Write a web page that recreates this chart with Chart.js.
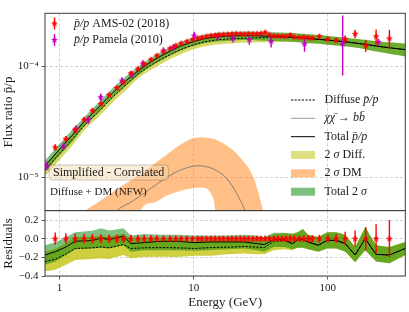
<!DOCTYPE html>
<html>
<head>
<meta charset="utf-8">
<script src="https://cdn.jsdelivr.net/npm/chart.js@4.4.0/dist/chart.umd.min.js"></script>
<style>
  html, body { margin: 0; padding: 0; background: #fff; }
  #wrap { position: relative; width: 409px; height: 312px; overflow: hidden; }
  #main { position: absolute; left: 0; top: 0; }
  #resid { position: absolute; left: 0; top: 200px; }
</style>
</head>
<body>
<div id="wrap">
  <canvas id="main" width="409" height="211"></canvas>
  <canvas id="resid" width="409" height="112"></canvas>
</div>
<script>
// ---- values ----
var amsEnergy = [0.929, 1.116, 1.309, 1.528, 1.761, 2.035, 2.346, 2.677, 2.998, 3.405, 3.84, 4.28, 4.80, 5.32, 5.96, 6.68, 7.37, 8.07, 8.90, 9.80, 10.74, 11.51,
  12.46, 13.43, 14.46, 15.56, 16.66, 17.98, 19.26, 20.75, 22.33, 23.91, 25.61, 27.6, 29.6, 31.8, 34.1, 36.7, 39.6, 42.4, 45.6, 48.9, 52.6, 56.4,
  61.4, 66.2, 71.6, 76.7, 86.5, 100, 115.3, 134.6, 159.7, 191.8, 229, 287.7];
var amsRatio = [1.86e-5, 2.22e-5, 2.67e-5, 3.31e-5, 3.99e-5, 4.58e-5, 5.52e-5, 6.38e-5, 7.17e-5, 8.65e-5, 9.48e-5, 1.05e-4, 1.15e-4, 1.25e-4, 1.36e-4, 1.45e-4, 1.54e-4, 1.61e-4, 1.67e-4, 1.74e-4, 1.79e-4, 1.82e-4,
  1.86e-4, 1.89e-4, 1.91e-4, 1.93e-4, 1.94e-4, 1.95e-4, 1.96e-4, 1.97e-4, 1.96e-4, 1.95e-4, 1.97e-4, 1.96e-4, 1.97e-4, 1.98e-4, 2.02e-4, 1.93e-4, 1.88e-4, 1.88e-4, 1.87e-4, 1.86e-4, 1.92e-4, 1.83e-4,
  1.82e-4, 1.83e-4, 1.81e-4, 1.79e-4, 1.86e-4, 1.75e-4, 1.71e-4, 1.76e-4, 1.96e-4, 1.54e-4, 1.86e-4, 1.78e-4];
var amsRelErr = [0.065, 0.058, 0.055, 0.052, 0.05, 0.048, 0.046, 0.045, 0.044, 0.042, 0.04, 0.038, 0.036, 0.035, 0.034, 0.033, 0.032, 0.031, 0.031, 0.03, 0.03, 0.03,
  0.03, 0.03, 0.03, 0.03, 0.03, 0.03, 0.03, 0.03, 0.03, 0.03, 0.03, 0.03, 0.03, 0.03, 0.032, 0.032, 0.032, 0.032, 0.032, 0.032, 0.034, 0.034,
  0.035, 0.036, 0.037, 0.038, 0.04, 0.042, 0.05, 0.074, 0.088, 0.126, 0.154, 0.2];

var pamEnergy = [0.806, 1.07, 1.33, 1.64, 2.03, 2.92, 3.46, 4.18, 5.96, 7.07, 10.1, 15.1, 19.6, 26.0, 37.8, 67, 129, 238];
var pamRatio = [1.27e-5, 1.90e-5, 2.73e-5, 3.29e-5, 5.26e-5, 7.43e-5, 8.42e-5, 1.06e-4, 1.38e-4, 1.48e-4, 1.89e-4, 1.86e-4, 1.80e-4, 1.74e-4, 1.68e-4, 1.59e-4, 1.59e-4, 1.66e-4];
var pamErrDown = [0.09, 0.08, 0.08, 0.08, 0.08, 0.07, 0.07, 0.07, 0.07, 0.07, 0.08, 0.08, 0.09, 0.1, 0.12, 0.15, 0.48, 0.06];
var pamErrUp = [0.09, 0.08, 0.08, 0.08, 0.08, 0.07, 0.07, 0.07, 0.07, 0.07, 0.08, 0.08, 0.09, 0.1, 0.12, 0.15, 0.8, 0.06];

// model curves, upper panel
var modelEnergy = [0.78, 1, 1.25, 1.5, 2, 2.5, 3, 4, 5, 6, 7, 8, 10, 12, 15, 20, 25, 30, 40, 50, 60, 80, 100, 130, 160, 200, 250, 300, 380];
var totalRatio = [1.27e-5, 1.78e-5, 2.4e-5, 3.1e-5, 4.4e-5, 5.8e-5, 7.1e-5, 9.4e-5, 1.13e-4, 1.28e-4, 1.41e-4, 1.52e-4, 1.67e-4, 1.77e-4, 1.84e-4, 1.88e-4, 1.89e-4, 1.88e-4, 1.86e-4, 1.84e-4, 1.81e-4, 1.76e-4, 1.72e-4, 1.67e-4, 1.62e-4, 1.56e-4, 1.50e-4, 1.46e-4, 1.41e-4];
var diffuseRatio = [1.16e-5, 1.63e-5, 2.2e-5, 2.85e-5, 4.0e-5, 5.28e-5, 6.46e-5, 8.84e-5, 1.05e-4, 1.19e-4, 1.31e-4, 1.41e-4, 1.56e-4, 1.655e-4, 1.73e-4, 1.77e-4, 1.795e-4, 1.805e-4, 1.82e-4, 1.82e-4, 1.81e-4, 1.76e-4, 1.72e-4, 1.67e-4, 1.62e-4, 1.56e-4, 1.50e-4, 1.46e-4, 1.41e-4];
var totalBandHigh = [1.42e-5, 1.99e-5, 2.69e-5, 3.41e-5, 4.84e-5, 6.38e-5, 7.81e-5, 1.025e-4, 1.23e-4, 1.395e-4, 1.537e-4, 1.657e-4, 1.82e-4, 1.93e-4, 2.006e-4, 2.05e-4, 2.06e-4, 2.05e-4, 2.027e-4, 2.006e-4, 1.973e-4, 1.918e-4, 1.875e-4, 1.82e-4, 1.766e-4, 1.716e-4, 1.665e-4, 1.635e-4, 1.593e-4];
var totalBandLow = [1.12e-5, 1.57e-5, 2.11e-5, 2.79e-5, 3.96e-5, 5.22e-5, 6.39e-5, 8.55e-5, 1.03e-4, 1.165e-4, 1.283e-4, 1.383e-4, 1.52e-4, 1.61e-4, 1.674e-4, 1.71e-4, 1.72e-4, 1.71e-4, 1.693e-4, 1.674e-4, 1.647e-4, 1.602e-4, 1.565e-4, 1.52e-4, 1.474e-4, 1.404e-4, 1.335e-4, 1.285e-4, 1.227e-4];
var diffBandHigh = [1.30e-5, 1.83e-5, 2.46e-5, 3.14e-5, 4.4e-5, 5.81e-5, 7.11e-5, 9.64e-5, 1.145e-4, 1.297e-4, 1.428e-4, 1.537e-4, 1.70e-4, 1.804e-4, 1.886e-4, 1.929e-4, 1.957e-4, 1.967e-4, 1.984e-4, 1.984e-4, 1.973e-4, 1.918e-4, 1.875e-4, 1.82e-4, 1.766e-4, 1.716e-4, 1.665e-4, 1.635e-4, 1.593e-4];
var diffBandLow = [1.02e-5, 1.43e-5, 1.94e-5, 2.57e-5, 3.6e-5, 4.75e-5, 5.81e-5, 8.04e-5, 9.56e-5, 1.083e-4, 1.192e-4, 1.283e-4, 1.42e-4, 1.506e-4, 1.574e-4, 1.611e-4, 1.633e-4, 1.643e-4, 1.656e-4, 1.656e-4, 1.647e-4, 1.602e-4, 1.565e-4, 1.52e-4, 1.474e-4, 1.404e-4, 1.335e-4, 1.285e-4, 1.227e-4];

// dark matter component
var dmEnergy = [2.3, 2.68, 3.56, 4.74, 6.31, 8.39, 10.8, 14.0, 17.7, 21.0, 24.2, 27];
var dmRatio = [4.0e-6, 5.0e-6, 6.17e-6, 7.86e-6, 1.0e-5, 1.19e-5, 1.27e-5, 1.19e-5, 9.7e-6, 7.09e-6, 5.0e-6, 3.4e-6];
var dmBandEnergy = [1.3, 1.55, 2.0, 2.8, 3.56, 4.0, 5.0, 6.31, 8.39, 11.2, 14.0, 14.5, 17.7, 22.2, 27.9, 33, 38];
var dmBandHigh = [4.3e-6, 5.0e-6, 6.1e-6, 8.1e-6, 9.7e-6, 1.07e-5, 1.3e-5, 1.6e-5, 2.05e-5, 2.29e-5, 2.22e-5, 2.19e-5, 1.93e-5, 1.51e-5, 1.0e-5, 5.0e-6, 2.6e-6];
var dmBandLow = [1e-6, 1e-6, 1e-6, 1e-6, 1e-6, 5.0e-6, 5.9e-6, 6.84e-6, 7.7e-6, 8.1e-6, 6.5e-6, 5.0e-6, 1e-6, 1e-6, 1e-6, 1e-6, 1e-6];

// residual panel
var resEnergy = [0.78, 0.93, 1.12, 1.31, 1.76, 2.04, 2.35, 3.0, 3.4, 4.28, 5.7, 7.57, 10.1, 13.4, 17.9, 23.7, 29.8, 33.6, 39.6, 47.3, 54.6, 59.5, 65.2, 71.2, 85, 98.7, 115.6, 135, 159.7, 190, 229, 288, 378];
var resTotal = [-0.175, -0.14, -0.088, -0.028, -0.02, 0.007, -0.01, 0.028, -0.053, -0.042, -0.028, -0.028, -0.042, -0.035, -0.035, -0.035, -0.053, -0.063, -0.01, -0.01, -0.053, -0.01, -0.01, -0.035, -0.07, -0.018, -0.018, -0.053, -0.175, 0, -0.168, -0.175, -0.105];
var resDiffuse = [-0.245, -0.22, -0.165, -0.105, -0.098, -0.088, -0.098, -0.063, -0.105, -0.098, -0.095, -0.098, -0.105, -0.095, -0.091, -0.084, -0.091, -0.095, -0.03, -0.02, -0.055, -0.01, -0.01, -0.035, -0.07, -0.018, -0.018, -0.053, -0.175, 0, -0.168, -0.175, -0.105];
var resTotalHigh = [-0.07, -0.042, 0.018, 0.07, 0.084, 0.112, 0.088, 0.112, 0.035, 0.049, 0.042, 0.042, 0.035, 0.035, 0.035, 0.042, 0.035, 0.018, 0.063, 0.063, 0.053, 0.07, 0.105, 0.042, 0.018, 0.07, 0.07, 0.042, -0.088, 0.123, -0.07, -0.088, -0.035];
var resTotalLow = [-0.28, -0.245, -0.175, -0.112, -0.105, -0.098, -0.105, -0.07, -0.14, -0.123, -0.123, -0.123, -0.13, -0.12, -0.112, -0.105, -0.123, -0.14, -0.088, -0.088, -0.112, -0.098, -0.098, -0.112, -0.14, -0.105, -0.105, -0.14, -0.253, -0.123, -0.245, -0.263, -0.175];
var resDiffHigh = [-0.14, -0.107, -0.05, 0.018, 0.022, 0.034, 0.022, 0.049, 0.0, 0.0, 0.003, 0.0, -0.028, -0.008, -0.014, -0.01, -0.014, -0.014, 0.05, 0.058, 0.053, 0.07, 0.105, 0.042, 0.018, 0.07, 0.07, 0.042, -0.088, 0.123, -0.07, -0.088, -0.035];
var resDiffLow = [-0.35, -0.333, -0.28, -0.228, -0.218, -0.21, -0.218, -0.175, -0.21, -0.196, -0.193, -0.196, -0.182, -0.182, -0.168, -0.158, -0.168, -0.168, -0.123, -0.112, -0.123, -0.098, -0.098, -0.112, -0.14, -0.105, -0.105, -0.14, -0.253, -0.123, -0.245, -0.263, -0.175];

var xTicks = [1, 10, 100];
var yMainTicks = [1e-5, 1e-4];
var yMainLabels = ['10\u207B\u2075', '10\u207B\u2074'];
var yResTicks = [-0.4, -0.2, 0, 0.2];
var yResLabels = ['\u22120.4', '\u22120.2', '0.0', '0.2'];

// ---- styling ----
var RED = 'rgb(255,0,0)';
var MAGENTA = 'rgb(191,0,191)';
var YELLOW = 'rgba(191,191,0,0.5)';
var YELLOW_MAIN = 'rgba(191,191,0,0.6)';
var YELLOW_RES = 'rgba(191,191,0,0.75)';
var GREEN = 'rgba(0,128,0,0.5)';
var ORANGE = 'rgba(255,127,14,0.5)';
var SERIF = "'Liberation Serif', 'DejaVu Serif', serif";
var TXT = '#1a1a1a';

Chart.defaults.font.family = SERIF;
Chart.defaults.color = TXT;

function starImage(color, r) {
  var c = document.createElement('canvas');
  var s = Math.ceil(r * 2 + 2);
  c.width = c.height = s;
  var g = c.getContext('2d');
  g.fillStyle = color;
  g.beginPath();
  for (var k = 0; k < 10; k++) {
    var rr = k % 2 ? r * 0.42 : r;
    var a = -Math.PI / 2 + k * Math.PI / 5;
    g.lineTo(s / 2 + rr * Math.cos(a), s / 2 + rr * Math.sin(a));
  }
  g.closePath();
  g.fill();
  return c;
}
var redStar = starImage(RED, 3.6);
var magStar = starImage(MAGENTA, 3.6);

function pts(xs, ys) {
  return xs.map(function(x, i) { return {x: x, y: ys[i]}; });
}

function lineSet(xs, ys, color, width, dash, smooth) {
  return {data: pts(xs, ys), borderColor: color, borderWidth: width, borderDash: dash || [],
    pointRadius: 0, fill: false, tension: 0, cubicInterpolationMode: smooth ? 'monotone' : 'default'};
}
function bandSet(xs, ys, color, smooth) {
  return {data: pts(xs, ys), borderWidth: 0, borderColor: 'rgba(0,0,0,0)', backgroundColor: color,
    pointRadius: 0, fill: '+1', cubicInterpolationMode: smooth ? 'monotone' : 'default'};
}
function bandLow(xs, ys, smooth) {
  return {data: pts(xs, ys), borderWidth: 0, borderColor: 'rgba(0,0,0,0)', pointRadius: 0, fill: false,
    cubicInterpolationMode: smooth ? 'monotone' : 'default'};
}

// keep the scales from reserving room for half tick labels
function noPad(s) {
  s.paddingTop = 0; s.paddingBottom = 0; s.paddingLeft = 0; s.paddingRight = 0;
}

// error bars drawn under the markers, through the chart scales
var errorBars = {
  id: 'errorBars',
  beforeDatasetDraw: function(chart, args) {
    var ds = chart.data.datasets[args.index];
    if (!ds.errLo) return;
    var ctx = chart.ctx, xs = chart.scales.x, ys = chart.scales.y, a = chart.chartArea;
    ctx.save();
    ctx.beginPath();
    ctx.rect(a.left, a.top, a.right - a.left, a.bottom - a.top);
    ctx.clip();
    ctx.strokeStyle = ds.errColor;
    ctx.lineWidth = 1.4;
    ds.data.forEach(function(p, i) {
      var x = xs.getPixelForValue(p.x);
      ctx.beginPath();
      ctx.moveTo(x, ys.getPixelForValue(ds.errLo[i]));
      ctx.lineTo(x, ys.getPixelForValue(ds.errHi[i]));
      ctx.stroke();
    });
    ctx.restore();
  }
};

var frame = {
  id: 'frame',
  afterDatasetsDraw: function(chart) {
    var a = chart.chartArea, ctx = chart.ctx;
    ctx.save();
    ctx.strokeStyle = '#3a3a3a';
    ctx.lineWidth = 1;
    ctx.strokeRect(a.left, a.top, a.right - a.left, a.bottom - a.top);
    ctx.restore();
  }
};

function richText(ctx, x, y, parts, size) {
  parts.forEach(function(p) {
    ctx.font = (p[1] ? 'italic ' : '') + size + 'px ' + SERIF;
    ctx.fillText(p[0], x, y);
    x += ctx.measureText(p[0]).width;
  });
  return x;
}

var annotations = {
  id: 'annotations',
  afterDraw: function(chart) {
    var ctx = chart.ctx;
    ctx.save();
    ctx.fillStyle = TXT;
    ctx.textBaseline = 'middle';
    // upper-left legend: data sets
    [[redStar, RED, 23.5, ' AMS-02 (2018)'], [magStar, MAGENTA, 40, ' Pamela (2010)']].forEach(function(r) {
      ctx.strokeStyle = r[1];
      ctx.lineWidth = 1.4;
      ctx.beginPath(); ctx.moveTo(54.5, r[2] - 6); ctx.lineTo(54.5, r[2] + 6); ctx.stroke();
      ctx.drawImage(r[0], 54.5 - r[0].width / 2, r[2] - r[0].height / 2);
      ctx.fillStyle = TXT;
      richText(ctx, 74, r[2], [['p\u0304/p', true], [r[3], false]], 12);
    });
    // lower-right legend: models
    var lx0 = 291, lx1 = 315, tx = 324.5;
    var rows = [
      {y: 100, line: '#000', dash: [2.2, 1.4], w: 1, parts: [['Diffuse ', false], ['p\u0304/p', true]]},
      {y: 118.3, line: '#8a8a8a', dash: [], w: 0.9, parts: [['\u03C7\u03C7\u0304', true], [' \u2192 ', false], ['bb\u0304', true]]},
      {y: 136.7, line: '#000', dash: [], w: 1, parts: [['Total ', false], ['p\u0304/p', true]]},
      {y: 155, patch: YELLOW, parts: [['2 ', false], ['\u03C3', true], [' Diff.', false]]},
      {y: 173.3, patch: ORANGE, parts: [['2 ', false], ['\u03C3', true], [' DM', false]]},
      {y: 191.7, patch: GREEN, parts: [['Total 2 ', false], ['\u03C3', true]]}
    ];
    rows.forEach(function(r) {
      if (r.patch) {
        ctx.fillStyle = r.patch;
        ctx.fillRect(lx0, r.y - 4, lx1 - lx0, 8);
      } else {
        ctx.strokeStyle = r.line;
        ctx.lineWidth = r.w;
        ctx.setLineDash(r.dash);
        ctx.beginPath(); ctx.moveTo(lx0, r.y); ctx.lineTo(lx1, r.y); ctx.stroke();
        ctx.setLineDash([]);
      }
      ctx.fillStyle = TXT;
      richText(ctx, tx, r.y, r.parts, 12);
    });
    // model label box
    ctx.font = '12px ' + SERIF;
    var label = 'Simplified - Correlated';
    var w = ctx.measureText(label).width;
    var bx = 49, by = 165, bw = w + 8, bh = 15, rad = 3;
    ctx.beginPath();
    ctx.moveTo(bx + rad, by);
    ctx.arcTo(bx + bw, by, bx + bw, by + bh, rad);
    ctx.arcTo(bx + bw, by + bh, bx, by + bh, rad);
    ctx.arcTo(bx, by + bh, bx, by, rad);
    ctx.arcTo(bx, by, bx + bw, by, rad);
    ctx.closePath();
    ctx.fillStyle = 'rgba(245,222,179,0.5)';
    ctx.fill();
    ctx.strokeStyle = 'rgba(0,0,0,0.25)';
    ctx.lineWidth = 0.8;
    ctx.stroke();
    ctx.fillStyle = TXT;
    ctx.fillText(label, bx + 4, by + bh / 2 + 0.5);
    ctx.font = '11px ' + SERIF;
    ctx.fillText('Diffuse + DM (NFW)', 50, 192);
    ctx.restore();
  }
};

function logX(showLabels) {
  return {
    type: 'logarithmic', min: 0.78, max: 378,
    afterBuildTicks: function(s) { s.ticks = xTicks.map(function(v) { return {value: v}; }); },
    ticks: {display: showLabels, font: {size: 11}, padding: 2, maxRotation: 0, autoSkip: false,
      callback: function(v) { return String(v); }},
    grid: {color: '#c8c8c8', lineWidth: 0.8, drawTicks: showLabels, tickLength: 3.5, tickColor: '#333', tickBorderDash: []},
    border: {display: false, dash: [3, 2]}
  };
}

// ---- upper panel ----
var mainDatasets = [
  {data: pts(amsEnergy, amsRatio), showLine: false, pointStyle: redStar, pointRadius: 4,
    errLo: amsRatio.map(function(v, i) { return v * (1 - amsRelErr[i]); }),
    errHi: amsRatio.map(function(v, i) { return v * (1 + amsRelErr[i]); }), errColor: RED},
  {data: pts(pamEnergy, pamRatio), showLine: false, pointStyle: magStar, pointRadius: 4,
    errLo: pamRatio.map(function(v, i) { return v * (1 - pamErrDown[i]); }),
    errHi: pamRatio.map(function(v, i) { return v * (1 + pamErrUp[i]); }), errColor: MAGENTA},
  lineSet(modelEnergy, totalRatio, '#000', 1, [], true),
  lineSet(modelEnergy, diffuseRatio, '#000', 1, [2.2, 1.4], true),
  lineSet(dmEnergy, dmRatio, '#777', 0.9, [], true),
  bandSet(modelEnergy, totalBandHigh, GREEN, true),
  bandLow(modelEnergy, totalBandLow, true),
  bandSet(modelEnergy, diffBandHigh, YELLOW_MAIN, true),
  bandLow(modelEnergy, diffBandLow, true),
  bandSet(dmBandEnergy, dmBandHigh, ORANGE, true),
  bandLow(dmBandEnergy, dmBandLow, true)
];

new Chart(document.getElementById('main'), {
  type: 'line',
  data: {datasets: mainDatasets},
  options: {
    responsive: false, animation: false, events: [],
    layout: {autoPadding: false, padding: {left: 0, right: 3.7, top: 13.3, bottom: 0.3}},
    plugins: {legend: {display: false}, tooltip: {enabled: false}},
    scales: {
      x: Object.assign(logX(false), {afterFit: function(s) { s.height = 0; noPad(s); }}),
      y: {
        type: 'logarithmic', min: 5e-6, max: 3e-4,
        afterBuildTicks: function(s) { s.ticks = yMainTicks.map(function(v) { return {value: v}; }); },
        afterFit: function(s) { s.width = 45; noPad(s); },
        ticks: {font: {size: 11}, padding: 3, callback: function(v, i) { return yMainLabels[i]; }},
        grid: {color: '#c8c8c8', lineWidth: 0.8, tickLength: 3.5, tickColor: '#333', tickBorderDash: []},
        border: {display: false, dash: [3, 2]},
        title: {display: true, text: 'Flux ratio p\u0304/p', font: {size: 13}, padding: {top: 1, bottom: 0}}
      }
    }
  },
  plugins: [errorBars, frame, annotations]
});

// ---- residual panel ----
var resZero = amsEnergy.map(function() { return 0; });
var resDatasets = [
  {data: pts(amsEnergy, resZero), showLine: false, pointStyle: redStar, pointRadius: 4,
    errLo: amsRelErr.map(function(e) { return -e; }), errHi: amsRelErr, errColor: RED},
  lineSet(resEnergy, resTotal, '#000', 1, []),
  lineSet(resEnergy, resDiffuse, '#000', 1, [2.2, 1.4]),
  bandSet(resEnergy, resTotalHigh, GREEN),
  bandLow(resEnergy, resTotalLow),
  bandSet(resEnergy, resDiffHigh, YELLOW_RES),
  bandLow(resEnergy, resDiffLow)
];

new Chart(document.getElementById('resid'), {
  type: 'line',
  data: {datasets: resDatasets},
  options: {
    responsive: false, animation: false, events: [],
    layout: {autoPadding: false, padding: {left: 0, right: 3.7, top: 10.7, bottom: 0}},
    plugins: {legend: {display: false}, tooltip: {enabled: false}},
    scales: {
      x: Object.assign(logX(true), {
        afterFit: function(s) { s.height = 36; noPad(s); },
        title: {display: true, text: 'Energy (GeV)', font: {size: 13}, padding: {top: 0, bottom: 2}}
      }),
      y: {
        type: 'linear', min: -0.4, max: 0.3,
        afterBuildTicks: function(s) { s.ticks = yResTicks.map(function(v) { return {value: v}; }); },
        afterFit: function(s) { s.width = 45; noPad(s); },
        ticks: {font: {size: 11}, padding: 3, callback: function(v, i) { return yResLabels[i]; }},
        grid: {color: '#c8c8c8', lineWidth: 0.8, tickLength: 3.5, tickColor: '#333', tickBorderDash: []},
        border: {display: false, dash: [3, 2]},
        title: {display: true, text: 'Residuals', font: {size: 13}, padding: {top: 1, bottom: 0}}
      }
    }
  },
  plugins: [errorBars, frame]
});
</script>
</body>
</html>
